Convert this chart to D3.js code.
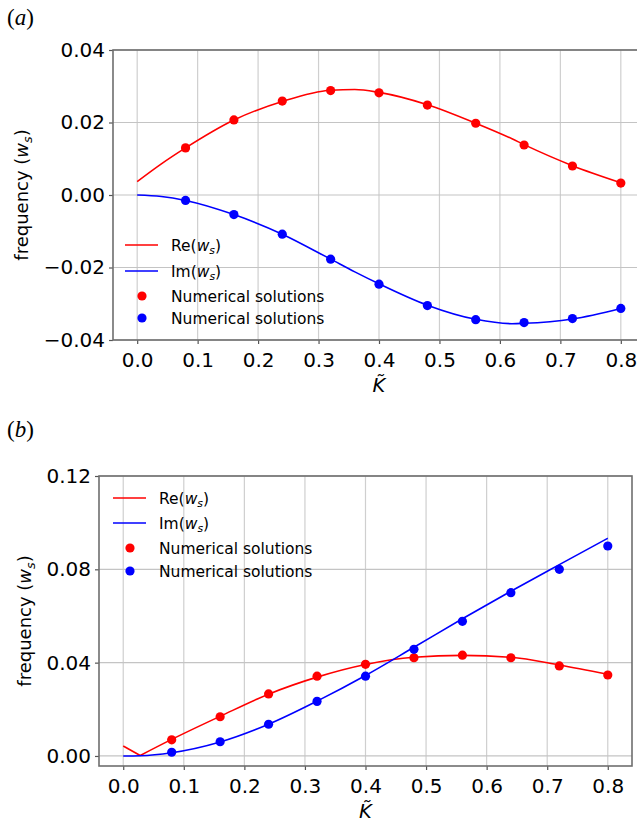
<!DOCTYPE html>
<html>
<head>
<meta charset="utf-8">
<script src="https://cdn.jsdelivr.net/npm/d3@7"></script>
<style>
  body { margin: 0; background: #fff; }
  svg text { font-family: "DejaVu Sans", sans-serif; fill: #000; }
</style>
</head>
<body>
<div id="chart"></div>
<script>
// size of the whole figure
var width = 637;
var height = 822;

// x values shared by both panels
var kTicks = [0.0, 0.1, 0.2, 0.3, 0.4, 0.5, 0.6, 0.7, 0.8];
var pointK = [0.08, 0.16, 0.24, 0.32, 0.40, 0.48, 0.56, 0.64, 0.72, 0.80];

// panel (a): analytic curves
var aCurveK = [0.0, 0.04, 0.08, 0.16, 0.24, 0.32, 0.36, 0.40, 0.48, 0.56, 0.62, 0.64, 0.72, 0.80];
var aReCurve = [0.0037, 0.0086, 0.0130, 0.0207, 0.0258, 0.0289, 0.0291, 0.0283, 0.0249, 0.0198, 0.0155, 0.0139, 0.0081, 0.0034];
var aImCurve = [0.0, -0.0004, -0.0015, -0.0054, -0.0108, -0.0177, -0.0212, -0.0245, -0.0304, -0.0343, -0.0355, -0.0354, -0.0342, -0.0313];
// panel (a): numerical solutions
var aRePts = [0.0130, 0.0207, 0.0259, 0.0288, 0.0282, 0.0248, 0.0198, 0.0138, 0.0080, 0.0033];
var aImPts = [-0.0015, -0.0054, -0.0108, -0.0177, -0.0246, -0.0305, -0.0344, -0.0352, -0.0341, -0.0313];
var aYTicks = [-0.04, -0.02, 0.00, 0.02, 0.04];

// panel (b): analytic curves
var bCurveK = [0.0, 0.028, 0.08, 0.16, 0.24, 0.32, 0.40, 0.48, 0.56, 0.64, 0.72, 0.80];
var bReCurve = [0.0043, 0.0002, 0.0071, 0.0170, 0.0265, 0.0338, 0.0392, 0.0423, 0.0431, 0.0423, 0.0390, 0.0350];
var bImCurve = [0.0, 0.0001, 0.0014, 0.0060, 0.0136, 0.0235, 0.0345, 0.0466, 0.0588, 0.0706, 0.0820, 0.0933];
// panel (b): numerical solutions
var bRePts = [0.0069, 0.0168, 0.0266, 0.0342, 0.0393, 0.0421, 0.0432, 0.0421, 0.0386, 0.0347];
var bImPts = [0.0016, 0.0061, 0.0136, 0.0234, 0.0342, 0.0457, 0.0577, 0.0700, 0.0800, 0.0900];
var bYTicks = [0.00, 0.04, 0.08, 0.12];

var red = "#ff0000";
var blue = "#0000ff";

var svg = d3.select("#chart")
    .append("svg")
    .attr("width", width)
    .attr("height", height);

// writes "prefix(w_s)" with italic w and subscript s into a text element
function wsLabel(sel, prefix, size) {
    sel.append("tspan").text(prefix + "(");
    sel.append("tspan").style("font-style", "italic").text("w");
    sel.append("tspan").style("font-style", "italic")
        .style("font-size", (size * 0.7) + "px")
        .attr("dy", size * 0.22).text("s");
    sel.append("tspan").attr("dy", -size * 0.22).text(")");
}

function drawPanel(p) {
    var x = d3.scaleLinear().domain([-0.04, 0.84]).range([p.left, p.right]);
    var y = d3.scaleLinear().domain(p.yDomain).range([p.bottom, p.top]);

    var g = svg.append("g");

    // grid
    g.selectAll(".vgrid").data(kTicks).enter().append("line")
        .attr("x1", d => x(d)).attr("x2", d => x(d))
        .attr("y1", p.top).attr("y2", p.bottom)
        .style("stroke", "#cfcfcf").style("stroke-width", 1.2);
    g.selectAll(".hgrid").data(p.yTicks).enter().append("line")
        .attr("x1", p.left).attr("x2", p.right)
        .attr("y1", d => y(d)).attr("y2", d => y(d))
        .style("stroke", "#c4c4c4").style("stroke-width", 1.2);

    // axes
    var xAxis = d3.axisBottom(x).tickValues(kTicks).tickFormat(d3.format(".1f"))
        .tickSize(4).tickPadding(4);
    var yAxis = d3.axisLeft(y).tickValues(p.yTicks).tickFormat(d3.format(".2f"))
        .tickSize(4).tickPadding(4);

    var gx = g.append("g").attr("transform", "translate(0," + p.bottom + ")").call(xAxis);
    var gy = g.append("g").attr("transform", "translate(" + p.left + ",0)").call(yAxis);
    [gx, gy].forEach(function(a) {
        a.select(".domain").remove();
        a.selectAll("line").style("stroke", "#555").style("stroke-width", 1.2);
        a.selectAll("text").style("font-size", "20px").style("font-family", "DejaVu Sans");
    });
    gx.selectAll("text").attr("dy", "0.93em");

    // frame
    g.append("rect")
        .attr("x", p.left).attr("y", p.top)
        .attr("width", p.right - p.left).attr("height", p.bottom - p.top)
        .style("fill", "none").style("stroke", "#6e6e6e").style("stroke-width", 1.6);

    // analytic curves
    var smooth = d3.line()
        .x(d => x(d[0]))
        .y(d => y(d[1]))
        .curve(d3.curveMonotoneX);
    var straight = d3.line()
        .x(d => x(d[0]))
        .y(d => y(d[1]));

    p.curves.forEach(function(c) {
        var pts = d3.zip(c.k, c.v);
        var k = c.kink || 0;  // sharp corner at this index (|Re| touches zero)
        if (k > 0) {
            g.append("path")
                .datum(pts.slice(0, k + 1))
                .attr("d", straight)
                .style("fill", "none").style("stroke", c.color).style("stroke-width", 1.6);
        }
        g.append("path")
            .datum(pts.slice(k))
            .attr("d", smooth)
            .style("fill", "none")
            .style("stroke", c.color)
            .style("stroke-width", 1.6);
    });

    // numerical solutions
    p.points.forEach(function(s) {
        g.selectAll(null).data(d3.zip(pointK, s.v)).enter().append("circle")
            .attr("cx", d => x(d[0]))
            .attr("cy", d => y(d[1]))
            .attr("r", 4.6)
            .style("fill", s.color);
    });

    // legend
    var L = p.legend;
    var fs = 15.5;
    var rows = [
        { kind: "line", color: red, y: L.rows[0], prefix: "Re" },
        { kind: "line", color: blue, y: L.rows[1], prefix: "Im" },
        { kind: "dot", color: red, y: L.rows[2] },
        { kind: "dot", color: blue, y: L.rows[3] }
    ];
    rows.forEach(function(r) {
        if (r.kind === "line") {
            g.append("line")
                .attr("x1", L.x).attr("x2", L.x + 33)
                .attr("y1", r.y).attr("y2", r.y)
                .style("stroke", r.color).style("stroke-width", 1.6);
        } else {
            g.append("circle")
                .attr("cx", L.x + 17).attr("cy", r.y).attr("r", 4.6)
                .style("fill", r.color);
        }
        var t = g.append("text")
            .attr("x", L.x + 46).attr("y", r.y + fs * 0.36)
            .style("font-size", fs + "px");
        if (r.kind === "line") wsLabel(t, r.prefix, fs);
        else t.text("Numerical solutions");
    });

    // y label
    var yl = g.append("text")
        .attr("transform", "translate(" + p.ylabelX + "," + ((p.top + p.bottom) / 2) + ") rotate(-90)")
        .attr("text-anchor", "middle")
        .style("font-size", "18px");
    wsLabel(yl, "frequency ", 18);

    // x label
    g.append("text")
        .attr("x", (x(0) + x(0.8)) / 2)
        .attr("y", p.bottom + 52)
        .attr("text-anchor", "middle")
        .style("font-size", "19.5px")
        .style("font-style", "italic")
        .text("K\u0303");

    // panel tag
    var tag = svg.append("text")
        .attr("x", 7).attr("y", p.tagY)
        .style("font-family", "Liberation Serif, serif")
        .style("font-size", "23px");
    tag.append("tspan").text("(");
    tag.append("tspan").style("font-style", "italic").text(p.tag);
    tag.append("tspan").text(")");
}

drawPanel({
    tag: "a", tagY: 25,
    left: 113, right: 645, top: 50, bottom: 340,
    yDomain: [-0.04, 0.04], yTicks: aYTicks,
    ylabelX: 28,
    curves: [
        { k: aCurveK, v: aReCurve, color: red },
        { k: aCurveK, v: aImCurve, color: blue }
    ],
    points: [
        { v: aRePts, color: red },
        { v: aImPts, color: blue }
    ],
    legend: { x: 125, rows: [245, 271, 296, 318] }
});

drawPanel({
    tag: "b", tagY: 437,
    left: 99, right: 632, top: 476, bottom: 766,
    yDomain: [-0.0043, 0.12], yTicks: bYTicks,
    ylabelX: 31,
    curves: [
        { k: bCurveK, v: bReCurve, color: red, kink: 1 },
        { k: bCurveK, v: bImCurve, color: blue }
    ],
    points: [
        { v: bRePts, color: red },
        { v: bImPts, color: blue }
    ],
    legend: { x: 113, rows: [498, 523, 548, 571] }
});
</script>
</body>
</html>
